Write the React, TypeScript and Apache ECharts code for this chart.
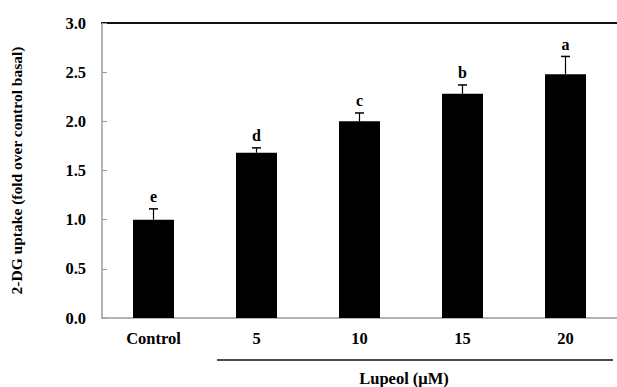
import React, { useEffect, useRef } from "react";
import * as echarts from "echarts";

const categories = ["Control", "5", "10", "15", "20"];
const means = [1.0, 1.68, 2.0, 2.28, 2.48];
const errors = [0.11, 0.05, 0.085, 0.09, 0.18];
const letters = ["e", "d", "c", "b", "a"];
const yTicks = [0, 0.5, 1.0, 1.5, 2.0, 2.5, 3.0];

const FONT = "'Liberation Serif', 'Times New Roman', serif";

export default function App() {
  const ref = useRef<HTMLDivElement>(null);
  useEffect(() => {
    if (!ref.current) return;
    const chart = echarts.init(ref.current, null, { renderer: "svg" });
    const errData = means.map((m, i) => [i, m, m + errors[i], letters[i]]);
    chart.setOption({
      animation: false,
      backgroundColor: "#fff",
      grid: { left: 95, top: 23, bottom: 69, width: 527, containLabel: false },
      xAxis: [
        {
          type: "category",
          data: categories,
          axisLine: { lineStyle: { color: "#9a9a9a", width: 1.5 } },
          axisTick: { inside: true, length: 5, lineStyle: { color: "#9a9a9a" } },
          axisLabel: {
            color: "#000",
            fontFamily: FONT,
            fontWeight: "bold",
            fontSize: 16.5,
            margin: 12,
          },
        },
        {
          type: "category",
          data: categories,
          position: "top",
          axisLine: { lineStyle: { color: "#111", width: 2 } },
          axisTick: { show: false },
          axisLabel: { show: false },
        },
      ],
      yAxis: {
        type: "value",
        min: 0,
        max: 3,
        interval: 0.5,
        splitLine: { show: false },
        axisLine: { show: true, lineStyle: { color: "#9a9a9a", width: 1.5 } },
        axisTick: { show: true, inside: true, length: 5, lineStyle: { color: "#9a9a9a" } },
        axisLabel: {
          color: "#000",
          fontFamily: FONT,
          fontWeight: "bold",
          fontSize: 16.5,
          margin: 16,
          formatter: (v: number) => (yTicks.includes(v) ? v.toFixed(1) : ""),
        },
        name: "2-DG uptake (fold over control basal)",
        nameLocation: "middle",
        nameGap: 78,
        nameTextStyle: {
          color: "#000",
          fontFamily: FONT,
          fontWeight: "bold",
          fontSize: 15.5,
        },
      },
      series: [
        {
          type: "bar",
          data: means,
          barWidth: 41,
          itemStyle: { color: "#000" },
        },
        {
          type: "custom",
          data: errData,
          z: 5,
          renderItem: (params: any, api: any) => {
            const i = api.value(0);
            const base = api.coord([i, api.value(1)]);
            const top = api.coord([i, api.value(2)]);
            const letter = letters[params.dataIndex];
            return {
              type: "group",
              children: [
                {
                  type: "line",
                  shape: { x1: base[0], y1: base[1], x2: top[0], y2: top[1] },
                  style: { stroke: "#000", lineWidth: 1.2 },
                },
                {
                  type: "line",
                  shape: { x1: top[0] - 4.5, y1: top[1], x2: top[0] + 4.5, y2: top[1] },
                  style: { stroke: "#000", lineWidth: 1.5 },
                },
                {
                  type: "text",
                  x: top[0],
                  y: top[1] - 12,
                  style: {
                    text: letter,
                    fill: "#000",
                    font: `bold 16px ${FONT}`,
                    align: "center",
                    verticalAlign: "middle",
                  },
                },
              ],
            };
          },
        },
      ],
      graphic: [
        {
          type: "line",
          shape: { x1: 217, y1: 360, x2: 613, y2: 360 },
          style: { stroke: "#111", lineWidth: 1.5 },
        },
        {
          type: "text",
          x: 404,
          y: 378,
          style: {
            text: "Lupeol (μM)",
            fill: "#000",
            font: `bold 16.5px ${FONT}`,
            align: "center",
            verticalAlign: "middle",
          },
        },
      ],
    });
    return () => chart.dispose();
  }, []);
  return (
    <div
      ref={ref}
      style={{ position: "fixed", left: 0, top: 0, width: 617, height: 387 }}
    />
  );
}
